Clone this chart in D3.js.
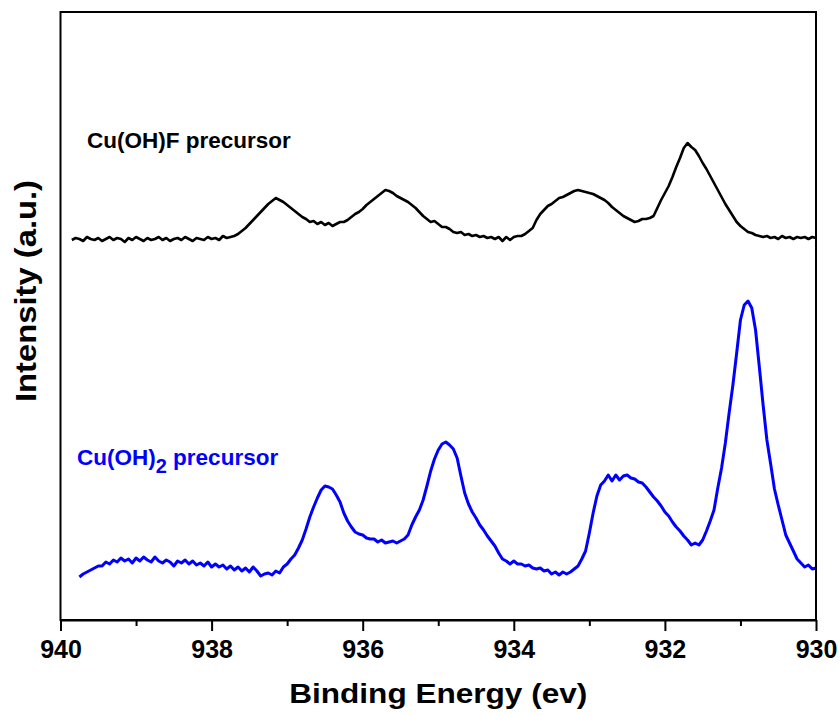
<!DOCTYPE html>
<html>
<head>
<meta charset="utf-8">
<script src="https://cdn.jsdelivr.net/npm/d3@7"></script>
<style>
  html, body { margin: 0; padding: 0; background: #fff; }
  svg text { font-family: "Liberation Sans", Arial, sans-serif; font-weight: bold; }
</style>
</head>
<body>
<svg id="chart" width="840" height="715"></svg>
<script>
// Binding energy grid (eV), shared by both spectra
const energy = [
  939.85,939.80,939.75,939.70,939.65,939.60,939.55,939.50,939.45,939.40,939.35,939.30,939.25,939.20,939.15,939.10,939.05,939.00,
  938.95,938.90,938.85,938.80,938.75,938.70,938.65,938.60,938.55,938.50,938.45,938.40,938.35,938.30,938.25,938.20,938.15,938.10,938.05,938.00,
  937.95,937.90,937.85,937.80,937.75,937.70,937.65,937.60,937.55,937.50,937.45,937.40,937.35,937.30,937.25,937.20,937.15,937.10,937.05,937.00,
  936.95,936.90,936.85,936.80,936.75,936.70,936.65,936.60,936.55,936.50,936.45,936.40,936.35,936.30,936.25,936.20,936.15,936.10,936.05,936.00,
  935.95,935.90,935.85,935.80,935.75,935.70,935.65,935.60,935.55,935.50,935.45,935.40,935.35,935.30,935.25,935.20,935.15,935.10,935.05,935.00,
  934.95,934.90,934.85,934.80,934.75,934.70,934.65,934.60,934.55,934.50,934.45,934.40,934.35,934.30,934.25,934.20,934.15,934.10,934.05,934.00,
  933.95,933.90,933.85,933.80,933.75,933.70,933.65,933.60,933.55,933.50,933.45,933.40,933.35,933.30,933.25,933.20,933.15,933.10,933.05,933.00,
  932.95,932.90,932.85,932.80,932.75,932.70,932.65,932.60,932.55,932.50,932.45,932.40,932.35,932.30,932.25,932.20,932.15,932.10,932.05,932.00,
  931.95,931.90,931.85,931.80,931.75,931.70,931.65,931.60,931.55,931.50,931.45,931.40,931.35,931.30,931.25,931.20,931.15,931.10,931.05,931.00,
  930.95,930.90,930.85,930.80,930.75,930.70,930.65,930.60,930.55,930.50,930.45,930.40,930.35,930.30,930.25,930.20,930.15,930.10,930.05,930.00
];

// Cu(OH)F precursor (offset, a.u.)
const cuOHF = [
  380,382,381,379,383,381,380,382,379,381,383,380,382,381,378,382,380,383,381,379,
  382,380,381,383,380,382,379,381,382,380,383,381,379,382,381,380,383,381,382,380,
  384,382,383,384,
  386,389,392,396,400,404,408,412,416,419,
  422,420,418,415,412,409,406,403,401,398,
  399,396,398,395,397,394,396,398,398,400,
  403,406,408,411,415,418,421,424,427,430,
  429,427,424,422,420,418,415,412,408,404,
  401,398,399,396,393,393,391,388,387,388,
  385,386,384,385,383,384,382,383,381,383,
  379,383,380,383,384,384,386,389,392,400,
  406,410,414,416,419,422,423,425,427,429,
  430,429,428,427,426,424,422,420,417,413,
  410,407,404,402,400,398,399,401,401,402,
  404,412,420,427,434,443,453,462,472,477,
  473,470,464,457,451,444,437,430,423,416,
  410,404,398,394,391,388,387,385,384,383,
  384,382,383,381,384,382,383,381,383,382,
  383,381,383,382
];

// Cu(OH)2 precursor (a.u.), starts at 939.75 eV
const cuOH2 = [
  null,null,
  43,46,48,50,52,54,54,58,56,60,
  58,62,59,61,57,62,59,63,60,58,
  63,59,57,60,58,54,59,57,60,56,
  59,55,57,54,58,53,56,53,55,51,
  54,50,53,49,52,48,53,49,44,46,
  47,45,49,47,53,56,61,65,72,80,
  91,103,113,122,130,134,133,131,125,118,
  107,99,93,88,86,85,82,81,81,78,
  80,77,78,79,77,79,81,85,95,103,
  110,120,134,149,161,170,176,178,175,171,
  162,144,127,116,108,102,95,90,84,79,
  74,67,61,59,56,59,56,56,54,55,
  52,51,52,49,50,46,48,45,48,46,
  48,51,54,61,69,87,107,124,135,139,
  145,139,145,140,144,145,142,141,138,137,
  133,128,123,119,114,108,104,98,93,89,
  84,80,75,77,75,80,89,99,110,132,
  152,177,207,235,267,300,315,319,312,290,
  253,215,180,156,131,115,100,85,77,69,
  61,57,53,55,51,52
];

const majorTicks = [940, 938, 936, 934, 932, 930];
const minorTicks = [939, 937, 935, 933, 931];

const series = [
  { name: 'Cu(OH)F precursor', values: cuOHF, color: '#000000', width: 2.6 },
  { name: 'Cu(OH)2 precursor', values: cuOH2, color: '#0000ff', width: 3 }
];

const margin = { left: 60.5, right: 816, top: 12, bottom: 620 };

const svg = d3.select('#chart');

const x = d3.scaleLinear().domain([940, 930]).range([margin.left, margin.right]);
const y = d3.scaleLinear().domain([0, 608]).range([margin.bottom, margin.top]);

// Spectra
const line = d3.line()
  .defined(d => d[1] != null)
  .x(d => x(d[0]))
  .y(d => y(d[1]));

series.forEach(s => {
  const pts = energy.map((e, i) => [e, s.values[i]]);
  svg.append('path')
    .datum(pts)
    .attr('fill', 'none')
    .attr('stroke', s.color)
    .attr('stroke-width', s.width)
    .attr('stroke-linejoin', 'round')
    .attr('d', line);
});

// Frame
svg.append('rect')
  .attr('x', margin.left).attr('y', margin.top)
  .attr('width', margin.right - margin.left)
  .attr('height', margin.bottom - margin.top)
  .attr('fill', 'none')
  .attr('stroke', '#000')
  .attr('stroke-width', 2);

// Bottom axis: major ticks with labels
const xAxis = svg.append('g')
  .attr('transform', `translate(0,${margin.bottom})`)
  .call(d3.axisBottom(x).tickValues(majorTicks).tickSize(11).tickSizeOuter(0).tickPadding(9).tickFormat(d3.format('d')));
xAxis.select('.domain').attr('stroke-width', 2);
xAxis.selectAll('.tick line').attr('stroke-width', 2);
xAxis.selectAll('.tick text')
  .attr('fill', '#000')
  .style('font-size', '25px');

// Minor ticks
const xMinor = svg.append('g')
  .attr('transform', `translate(0,${margin.bottom})`)
  .call(d3.axisBottom(x).tickValues(minorTicks).tickSize(6).tickSizeOuter(0).tickFormat(''));
xMinor.select('.domain').remove();
xMinor.selectAll('.tick line').attr('stroke-width', 2);

// Axis titles (wide bold face in the original, so stretch to its width)
svg.append('text')
  .attr('x', (margin.left + margin.right) / 2)
  .attr('y', 703)
  .attr('text-anchor', 'middle')
  .attr('textLength', 298)
  .attr('lengthAdjust', 'spacingAndGlyphs')
  .style('font-size', '28px')
  .text('Binding Energy (ev)');

svg.append('text')
  .attr('transform', 'translate(36,291) rotate(-90)')
  .attr('text-anchor', 'middle')
  .attr('textLength', 222)
  .attr('lengthAdjust', 'spacingAndGlyphs')
  .style('font-size', '29px')
  .text('Intensity (a.u.)');

// Series labels
svg.append('text')
  .attr('x', 87).attr('y', 148)
  .attr('fill', '#000')
  .style('font-size', '22.5px')
  .text('Cu(OH)F precursor');

const blueLabel = svg.append('text')
  .attr('x', 77).attr('y', 465)
  .attr('fill', '#0000ff')
  .style('font-size', '22.5px');
blueLabel.append('tspan').text('Cu(OH)');
blueLabel.append('tspan').attr('dy', 8).style('font-size', '20px').text('2');
blueLabel.append('tspan').attr('dy', -8).text(' precursor');
</script>
</body>
</html>
